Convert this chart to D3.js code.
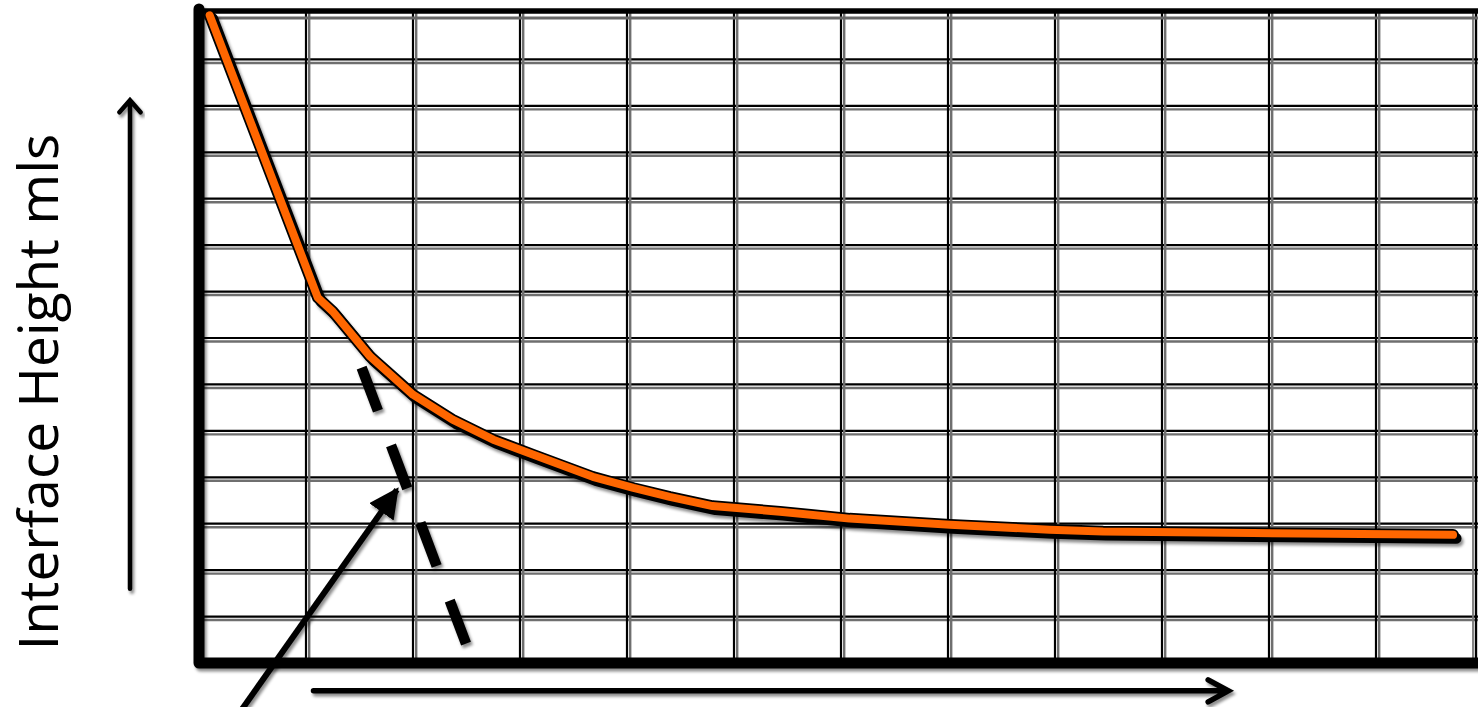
<!DOCTYPE html>
<html>
<head>
<meta charset="utf-8">
<script src="https://cdn.jsdelivr.net/npm/d3@7"></script>
<style>
  html, body { margin: 0; padding: 0; background: #fff; }
  svg { display: block; }
</style>
</head>
<body>
<svg id="chart" width="1478" height="707"></svg>
<script>
// ---- data (chart units: columns / rows of the grid) ----
const xGridTicks = [1, 2, 3, 4, 5, 6, 7, 8, 9, 10, 11];
const yGridTicks = [1, 2, 3, 4, 5, 6, 7, 8, 9, 10, 11, 12, 13];
const curveX = [0.10, 1.11, 1.25, 1.60, 2.00, 2.37, 2.75, 3.12, 3.68, 4.06, 4.40, 4.80, 5.43, 6.08, 7.02, 7.95, 8.45, 9.85, 11.72];
const curveY = [13.95, 7.87, 7.57, 6.60, 5.78, 5.24, 4.81, 4.49, 4.01, 3.77, 3.58, 3.38, 3.26, 3.11, 2.98, 2.87, 2.83, 2.80, 2.76];
const tangentX = [1.52, 2.50];
const tangentY = [6.36, 0.39];
const pointerX = [0.33, 1.85];
const pointerY = [-1.23, 3.73];
const upArrowX = [-0.645, -0.645];
const upArrowY = [1.60, 12.12];
const rightArrowX = [1.07, 9.62];
const rightArrowY = [-0.60, -0.60];
const yLabel = "Interface Height mls";

// ---- layout ----
const svg = d3.select("#chart");
const x = d3.scaleLinear().domain([0, 12]).range([199, 1483]);
const y = d3.scaleLinear().domain([0, 14]).range([663, 13]);
const xRight = 1476;

const defs = svg.append("defs");
const sh = defs.append("filter").attr("id", "shadow")
  .attr("x", "-20%").attr("y", "-20%").attr("width", "140%").attr("height", "140%");
sh.append("feDropShadow").attr("dx", 2).attr("dy", 3).attr("stdDeviation", 1.6)
  .attr("flood-color", "#000").attr("flood-opacity", 0.45);

// ---- grid (double hand-drawn look) ----
const grid = svg.append("g");
const hY = yGridTicks.map(d => y(d));
grid.selectAll("line.hg").data(hY).join("line")
  .attr("x1", x(0)).attr("x2", xRight + 2).attr("y1", d => d + 3.5).attr("y2", d => d + 3.5)
  .attr("stroke", "#6f6f6f").attr("stroke-width", 2.4);
grid.selectAll("line.hb").data(hY).join("line")
  .attr("x1", x(0)).attr("x2", xRight + 2).attr("y1", d => d).attr("y2", d => d)
  .attr("stroke", "#000").attr("stroke-width", 2.2);
const vX = xGridTicks.map(d => x(d));
grid.selectAll("line.vg").data(vX).join("line")
  .attr("x1", d => d + 3.2).attr("x2", d => d + 3.2).attr("y1", y(14)).attr("y2", y(0))
  .attr("stroke", "#6f6f6f").attr("stroke-width", 2.4);
grid.selectAll("line.vb").data(vX).join("line")
  .attr("x1", d => d).attr("x2", d => d).attr("y1", y(14)).attr("y2", y(0))
  .attr("stroke", "#000").attr("stroke-width", 2.2);

// right border
grid.append("line").attr("x1", xRight).attr("x2", xRight).attr("y1", y(14)).attr("y2", y(0))
  .attr("stroke", "#000").attr("stroke-width", 2.4);
grid.append("line").attr("x1", xRight - 3).attr("x2", xRight - 3).attr("y1", y(14)).attr("y2", y(0))
  .attr("stroke", "#777").attr("stroke-width", 1.8);

// top border
grid.append("line").attr("x1", x(0)).attr("x2", 1478).attr("y1", y(14) + 5).attr("y2", y(14) + 5)
  .attr("stroke", "#666").attr("stroke-width", 3);
grid.append("line").attr("x1", x(0)).attr("x2", 1478).attr("y1", y(14) - 2).attr("y2", y(14) - 2)
  .attr("stroke", "#000").attr("stroke-width", 5.5);

// ---- axes (thick) ----
const axes = svg.append("g").attr("filter", "url(#shadow)");
axes.append("path")
  .attr("d", `M${x(0)},${y(14) - 4} L${x(0)},${y(0)} L1478,${y(0)}`)
  .attr("fill", "none").attr("stroke", "#000").attr("stroke-width", 11)
  .attr("stroke-linejoin", "round").attr("stroke-linecap", "round");

// ---- dashed tangent line ----
svg.append("line")
  .attr("x1", x(tangentX[0])).attr("y1", y(tangentY[0]))
  .attr("x2", x(tangentX[1])).attr("y2", y(tangentY[1]))
  .attr("stroke", "#000").attr("stroke-width", 10.5)
  .attr("stroke-dasharray", "46,37")
  .attr("filter", "url(#shadow)");

// ---- orange curve ----
const pts = curveX.map((d, i) => [x(d), y(curveY[i])]);
const line = d3.line().curve(d3.curveLinear);
const cg = svg.append("g");
cg.append("path").attr("d", line(pts)).attr("fill", "none")
  .attr("stroke", "#000").attr("stroke-width", 11).attr("transform", "translate(3,3.5)")
  .attr("stroke-linecap", "round").attr("stroke-linejoin", "round").attr("filter", "url(#shadow)");
cg.append("path").attr("d", line(pts)).attr("fill", "none")
  .attr("stroke", "#000").attr("stroke-width", 11.5)
  .attr("stroke-linecap", "round").attr("stroke-linejoin", "round");
cg.append("path").attr("d", line(pts)).attr("fill", "none")
  .attr("stroke", "#FF6600").attr("stroke-width", 8)
  .attr("stroke-linecap", "round").attr("stroke-linejoin", "round");

// ---- pointer arrow (filled head) ----
defs.append("marker").attr("id", "filledHead")
  .attr("viewBox", "0 0 10 10").attr("refX", 9).attr("refY", 5)
  .attr("markerWidth", 5).attr("markerHeight", 5).attr("orient", "auto")
  .attr("markerUnits", "strokeWidth")
  .append("path").attr("d", "M0,0 L10,5 L0,10 Z").attr("fill", "#000");
svg.append("line")
  .attr("x1", x(pointerX[0])).attr("y1", y(pointerY[0]))
  .attr("x2", x(pointerX[1])).attr("y2", y(pointerY[1]))
  .attr("stroke", "#000").attr("stroke-width", 6)
  .attr("marker-end", "url(#filledHead)")
  .attr("filter", "url(#shadow)");

// ---- axis direction arrows (open heads) ----
function openArrow(x1, y1, x2, y2, arm, spread, w) {
  const ang = Math.atan2(y2 - y1, x2 - x1);
  const a1 = ang + Math.PI - spread, a2 = ang + Math.PI + spread;
  const p = d3.path();
  p.moveTo(x1, y1); p.lineTo(x2, y2);
  p.moveTo(x2 + arm * Math.cos(a1), y2 + arm * Math.sin(a1));
  p.lineTo(x2, y2);
  p.lineTo(x2 + arm * Math.cos(a2), y2 + arm * Math.sin(a2));
  svg.append("path").attr("d", p.toString()).attr("fill", "none")
    .attr("stroke", "#000").attr("stroke-width", w)
    .attr("stroke-linecap", "round").attr("stroke-linejoin", "miter")
    .attr("filter", "url(#shadow)");
}
openArrow(x(upArrowX[0]), y(upArrowY[0]), x(upArrowX[1]), y(upArrowY[1]), 16, 0.72, 4.5);
openArrow(x(rightArrowX[0]), y(rightArrowY[0]), x(rightArrowX[1]), y(rightArrowY[1]), 23, 0.5, 5.5);

// ---- y label ----
svg.append("text")
  .attr("transform", "translate(58,392) rotate(-90)")
  .attr("text-anchor", "middle")
  .attr("font-family", "'Open Sans', sans-serif")
  .attr("font-size", 55)
  .attr("fill", "#000")
  .text(yLabel);
</script>
</body>
</html>
